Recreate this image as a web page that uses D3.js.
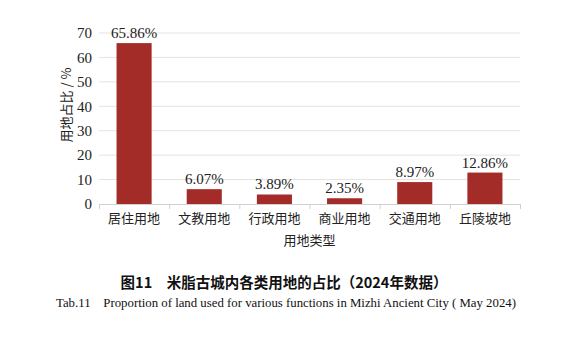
<!DOCTYPE html>
<html>
<head>
<meta charset="utf-8">
<script src="https://cdn.jsdelivr.net/npm/d3@7"></script>
<style>
  html, body { margin: 0; padding: 0; background: #fff; }
  svg { display: block; }
</style>
</head>
<body>
<svg id="chart" width="571" height="342"></svg>
<script>
// Land-use shares inside Mizhi Ancient City (2024)
const categories = ["居住用地", "文教用地", "行政用地", "商业用地", "交通用地", "丘陵坡地"];
const shares = [65.86, 6.07, 3.89, 2.35, 8.97, 12.86];
const yTicks = [0, 10, 20, 30, 40, 50, 60, 70];

const svg = d3.select("#chart");
const margin = { left: 99, right: 51, top: 33, bottom: 138 };
const W = 571, H = 342;
const plotW = W - margin.left - margin.right;
const plotH = H - margin.top - margin.bottom;

const serif = "'Liberation Serif', 'DejaVu Serif', 'Times New Roman', serif";
const cjk = "'Noto Sans CJK SC', sans-serif";

const x = d3.scaleBand().domain(categories).range([0, plotW]).paddingInner(0.5).paddingOuter(0.25);
const y = d3.scaleLinear().domain([0, 70]).range([plotH, 0]);

const g = svg.append("g").attr("transform", `translate(${margin.left},${margin.top})`);

// horizontal gridlines
g.append("g").selectAll("line").data(yTicks.filter(d => d > 0)).join("line")
  .attr("x1", 0).attr("x2", plotW)
  .attr("y1", d => y(d)).attr("y2", d => y(d))
  .attr("stroke", "#e3e3e3").attr("stroke-width", 1);

// y axis (labels only)
const yAxis = g.append("g").call(d3.axisLeft(y).tickValues(yTicks).tickSize(0).tickPadding(7));
yAxis.select(".domain").remove();
yAxis.selectAll("text").style("font-family", serif).style("font-size", "15px").attr("fill", "#222");

// x axis with tick marks at band boundaries
const xAxisG = g.append("g").attr("transform", `translate(0,${plotH})`);
xAxisG.append("line").attr("x1", 0).attr("x2", plotW).attr("y1", 0.5).attr("y2", 0.5)
  .attr("stroke", "#d0d0d0");
const step = x.step();
const bounds = d3.range(categories.length + 1).map(i => i * step);
xAxisG.selectAll("line.tick").data(bounds).join("line").attr("class", "tick")
  .attr("x1", d => d + 0.5).attr("x2", d => d + 0.5).attr("y1", 0).attr("y2", 5)
  .attr("stroke", "#d0d0d0");
xAxisG.selectAll("text").data(categories).join("text")
  .attr("x", d => x(d) + x.bandwidth() / 2).attr("y", 19)
  .attr("text-anchor", "middle").style("font-family", cjk).style("font-size", "13px")
  .attr("fill", "#222").text(d => d);

// bars
g.selectAll("rect.bar").data(categories).join("rect").attr("class", "bar")
  .attr("x", d => x(d)).attr("width", x.bandwidth())
  .attr("y", (d, i) => y(shares[i])).attr("height", (d, i) => plotH - y(shares[i]))
  .attr("fill", "#a32c29");

// value labels
g.selectAll("text.val").data(categories).join("text").attr("class", "val")
  .attr("x", d => x(d) + x.bandwidth() / 2).attr("y", (d, i) => y(shares[i]) - 5)
  .attr("text-anchor", "middle").style("font-family", serif).style("font-size", "15px")
  .attr("fill", "#222").text((d, i) => shares[i].toFixed(2) + "%");

// axis titles
svg.append("text").attr("transform", `translate(71,105) rotate(-90)`)
  .attr("text-anchor", "middle").style("font-family", cjk).style("font-size", "13px").attr("fill", "#222")
  .text("用地占比 / %");
svg.append("text").attr("x", margin.left + plotW / 2).attr("y", 245)
  .attr("text-anchor", "middle").style("font-family", cjk).style("font-size", "13px").attr("fill", "#222")
  .text("用地类型");

// captions
svg.append("text").attr("x", 284).attr("y", 288)
  .attr("text-anchor", "middle").style("font-family", cjk).style("font-size", "14.5px")
  .style("font-weight", "bold").attr("fill", "#111")
  .text("图11\u2003米脂古城内各类用地的占比（2024年数据）");
svg.append("text").attr("x", 286).attr("y", 307)
  .attr("text-anchor", "middle").style("font-family", serif).style("font-size", "12.8px").attr("fill", "#111")
  .style("white-space", "pre")
  .text("Tab.11    Proportion of land used for various functions in Mizhi Ancient City ( May 2024)");
</script>
</body>
</html>
